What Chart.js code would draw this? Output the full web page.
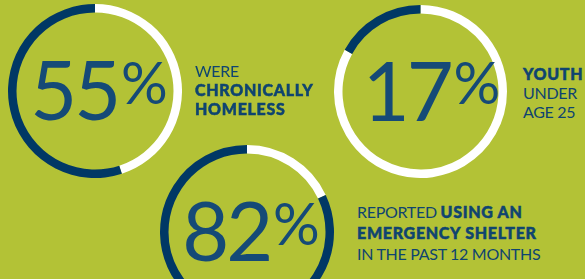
<!DOCTYPE html>
<html>
<head>
<meta charset="utf-8">
<script src="https://cdn.jsdelivr.net/npm/chart.js@4"></script>
<style>
    html, body { margin: 0; padding: 0; }
    body { width: 585px; height: 279px; overflow: hidden; position: relative; background: #b3c236; }
    canvas { position: absolute; }
    .label { position: absolute; color: #0f4470; font-family: Lato, sans-serif; font-size: 16px; line-height: 19px; letter-spacing: -0.3px; }
    .label b { font-weight: 900; letter-spacing: 0.7px; -webkit-text-stroke: 0.5px #0f4470; }
</style>
</head>
<body>
<canvas id="ring1" width="174" height="174" style="left:8px;top:4px"></canvas>
<canvas id="ring2" width="173" height="173" style="left:334px;top:5px"></canvas>
<canvas id="ring3" width="174" height="174" style="left:160px;top:145px"></canvas>

<div class="label" style="left:195px;top:61px">WERE<br><b>CHRONICALLY<br>HOMELESS</b></div>
<div class="label" style="left:523px;top:64px"><b>YOUTH</b><br>UNDER<br>AGE 25</div>
<div class="label" style="left:357px;top:201px;line-height:21px">REPORTED <b>USING AN<br>EMERGENCY SHELTER</b><br>IN THE PAST 12 MONTHS</div>

<script>
// share of respondents, in percent
const stats = ["chronic", "youth", "shelter"];
const percents = [55, 17, 82];
const canvasIds = ["ring1", "ring2", "ring3"];

const NAVY = "#003865";
const TEXT_NAVY = "#154a77";
const RING_WIDTH = 8.5;

// draws "55%" in the middle of the ring, with a smaller raised % sign
const centerText = {
    id: "centerText",
    afterDraw(chart, args, opts) {
        const { ctx } = chart;
        const meta = chart.getDatasetMeta(0).data[0];
        const cx = meta.x + opts.dx;
        const cy = meta.y;
        const size = 81;
        const pctSize = size * 0.72;
        const digits = String(opts.value);
        ctx.save();
        ctx.fillStyle = TEXT_NAVY;
        ctx.textBaseline = "alphabetic";
        ctx.letterSpacing = "-3px";
        ctx.font = `400 ${size}px Lato, sans-serif`;
        const wDigits = ctx.measureText(digits).width;
        ctx.font = `400 ${pctSize}px Lato, sans-serif`;
        const wPct = ctx.measureText("%").width;
        const left = cx - (wDigits + wPct) / 2;
        const capH = size * 0.72;
        const base = cy + capH / 2;
        ctx.font = `400 ${size}px Lato, sans-serif`;
        ctx.fillText(digits, left, base);
        ctx.font = `400 ${pctSize}px Lato, sans-serif`;
        ctx.fillText("%", left + wDigits + 3, base - capH + pctSize * 0.72);
        ctx.restore();
    },
};

percents.forEach((value, i) => {
    const canvas = document.getElementById(canvasIds[i]);
    const r = canvas.width / 2;
    new Chart(canvas, {
        type: "doughnut",
        data: {
            labels: ["rest", stats[i]],
            datasets: [
                {
                    // white remainder first so the navy part ends at 12 o'clock
                    data: [100 - value, value],
                    backgroundColor: ["#ffffff", NAVY],
                    borderWidth: 0,
                },
            ],
        },
        options: {
            responsive: false,
            animation: false,
            cutout: r - RING_WIDTH,
            events: [],
            plugins: {
                legend: { display: false },
                tooltip: { enabled: false },
                centerText: { value, dx: i === 1 ? 8 : 1 },
            },
        },
        plugins: [centerText],
    });
});
</script>
</body>
</html>
